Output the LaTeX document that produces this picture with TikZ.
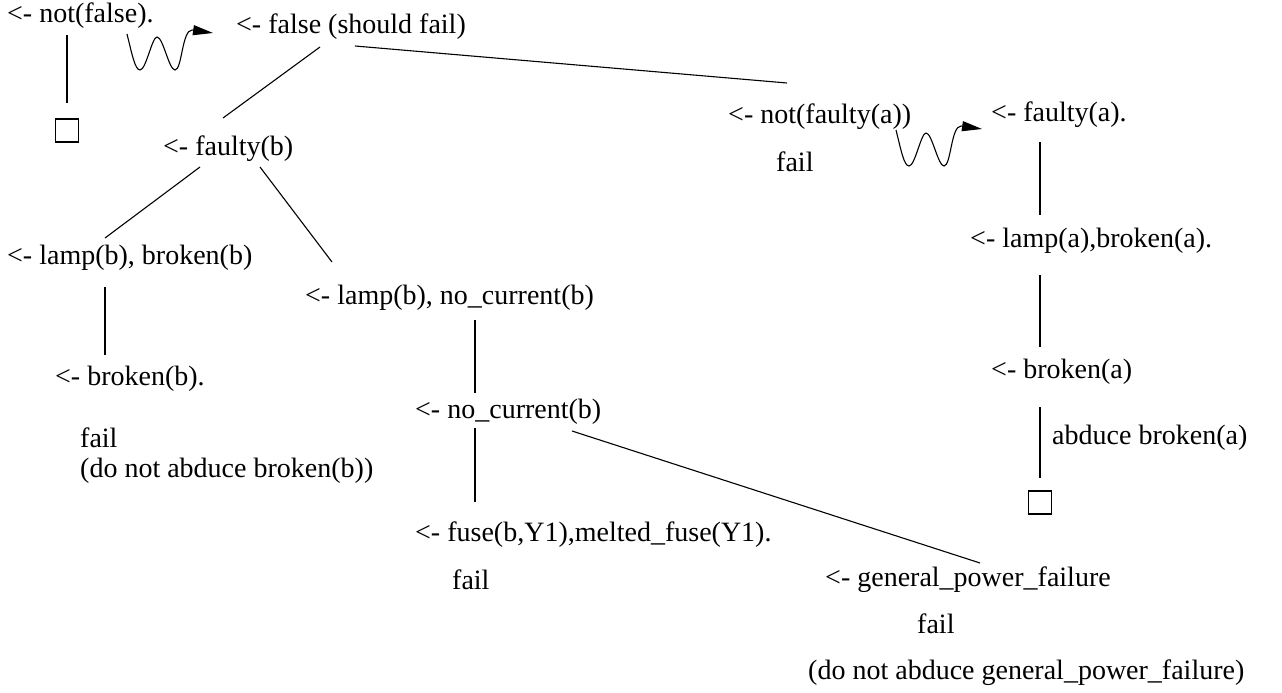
\documentclass[tikz,border=0pt]{standalone}
\usepackage{fontspec}
\setmainfont{Liberation Serif}
\usetikzlibrary{calc,arrows.meta}
\begin{document}
\begin{tikzpicture}[x=1pt,y=-1pt,
  every node/.style={font=\fontsize{28}{34}\selectfont},
  txt/.style={inner sep=0pt, anchor=west, text height=19.6pt, text depth=5.6pt},
  goalbox/.style={draw, line width=1.1pt, minimum size=23pt, inner sep=0pt},
  edge/.style={line width=1.1pt},
  wavy/.style={line width=1.1pt, -{Triangle[length=20pt,width=10pt]}}]
\path[use as bounding box] (0,0) rectangle (1282,693);
% nodes
\node[txt] (nf)   at (7,16)    {<- not(false).};
\node[txt] (fl)   at (236,27)  {<- false (should fail)};
\node[txt] (fb)   at (163,148) {<- faulty(b)};
\node[txt] (nfa)  at (728,116) {<- not(faulty(a))};
\node[txt] (fail1) at (776,164) {fail};
\node[txt] (fa)   at (991,114) {<- faulty(a).};
\node[txt] (lba)  at (970,240) {<- lamp(a),broken(a).};
\node[txt] (ba)   at (991,371) {<- broken(a)};
\node[txt] (abd)  at (1052,437) {abduce broken(a)};
\node[goalbox] (box2) at (1040,502.5) {};
\node[goalbox] (box1) at (67,130.5) {};
\node[txt] (lbb)  at (7,257)   {<- lamp(b), broken(b)};
\node[txt] (bb)   at (55,378)  {<- broken(b).};
\node[txt] (fail2) at (80,440) {fail};
\node[txt] (dnab) at (80,470)  {(do not abduce broken(b))};
\node[txt] (lnc)  at (305,297) {<- lamp(b), no\_current(b)};
\node[txt] (nc)   at (415,411) {<- no\_current(b)};
\node[txt] (fuse) at (415,534) {<- fuse(b,Y1),melted\_fuse(Y1).};
\node[txt] (fail3) at (452,582) {fail};
\node[txt] (gpf)  at (825,579) {<- general\_power\_failure};
\node[txt] (fail4) at (917,626) {fail};
\node[txt] (dnag) at (808,672) {(do not abduce general\_power\_failure)};
% connectors
\draw[edge] ($(nf.west -| box1.north)+(0,19)$) -- ($(box1.north)+(0,-15.5)$);
\draw[edge] ($(fl.west)+(84,20)$) -- ($(fb.west)+(60,-30)$);
\draw[edge] ($(fl.west)+(119,19)$) -- ($(nfa.west)+(59,-33)$);
\draw[edge] ($(fb.west)+(37,19)$) -- ($(lbb.west)+(98,-19)$);
\draw[edge] ($(fb.west)+(97,19)$) -- ($(lnc.west)+(27,-35)$);
\draw[edge] ($(lbb.west)+(98,30)$) -- ($(bb.west)+(50,-23)$);
\draw[edge] ($(lnc.west)+(170,23)$) -- ($(nc.west)+(60,-18)$);
\draw[edge] ($(nc.west)+(60,17)$) -- ($(fuse.west)+(60,-32)$);
\draw[edge] ($(nc.west)+(157,20)$) -- ($(gpf.west)+(155,-16)$);
\draw[edge] ($(fa.west)+(49,28)$) -- ($(lba.west)+(70,-25)$);
\draw[edge] ($(lba.west)+(70,35)$) -- ($(ba.west)+(49,-24)$);
\draw[edge] ($(ba.west)+(49,36)$) -- ($(box2.north)+(0,-12.5)$);
% wavy arrows
\coordinate (w1) at (127,34);
\coordinate (w2) at (896,130);
\foreach \s in {w1,w2}{
\draw[wavy] (\s) .. controls ($(\s)+(5,20)$) and ($(\s)+(8,36)$) .. ($(\s)+(13,36)$)
  .. controls ($(\s)+(19,36)$) and ($(\s)+(25,3)$) .. ($(\s)+(30,3)$)
  .. controls ($(\s)+(36,3)$) and ($(\s)+(42,36)$) .. ($(\s)+(48,36)$)
  .. controls ($(\s)+(55,36)$) and ($(\s)+(55,-4)$) .. ($(\s)+(65,-4)$)
  -- ($(\s)+(86,-1)$);
}
\end{tikzpicture}
\end{document}
